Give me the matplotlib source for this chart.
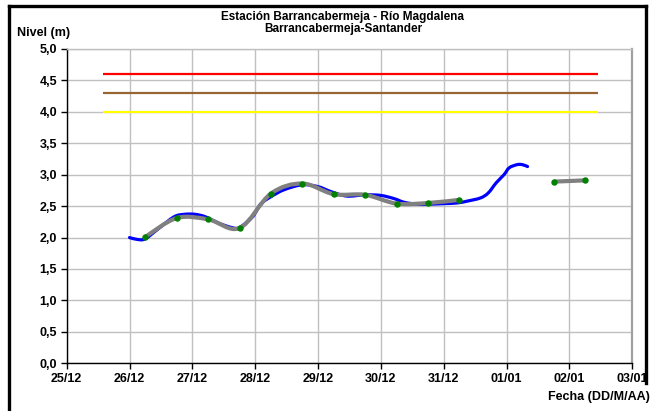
import datetime
import matplotlib
matplotlib.use("Agg")
import matplotlib.pyplot as plt
import matplotlib.dates as mdates
from matplotlib.path import Path
from matplotlib.patches import PathPatch
from matplotlib.lines import Line2D

plt.rcParams['font.family'] = ['Liberation Sans', 'DejaVu Sans']
plt.rcParams['font.weight'] = 'bold'

# hours counted from 25/12 00:00
start = datetime.datetime(2010, 12, 25)

blue_hours = [24, 27, 30, 35, 41, 45, 49, 53, 58, 63, 66, 71, 74, 78, 83, 90, 96,
              101, 107, 114, 120, 125, 129, 134, 138, 144, 149, 153, 158, 161,
              164, 167, 169, 172, 174, 176]
blue_values = [2.00, 1.97, 1.98, 2.14, 2.33, 2.37, 2.37, 2.33, 2.23, 2.16, 2.16,
               2.33, 2.53, 2.65, 2.76, 2.84, 2.81, 2.73, 2.66, 2.68, 2.67, 2.62,
               2.56, 2.53, 2.53, 2.54, 2.55, 2.58, 2.63, 2.71, 2.87, 3.00, 3.11,
               3.16, 3.16, 3.13]

# gray smoothed series, two pieces (gap between 31/12 and 01/01)
gray_hours_a = [30, 42, 54, 66, 78, 90, 102, 114, 126, 138, 150]
gray_values_a = [2.01, 2.31, 2.29, 2.15, 2.70, 2.86, 2.69, 2.68, 2.54, 2.55, 2.60]
gray_hours_b = [186, 198]
gray_values_b = [2.89, 2.91]

# alert levels
level_hours = [14, 203]
level_red = 4.6
level_brown = 4.3
level_yellow = 4.0

x_tick_days = [0, 1, 2, 3, 4, 5, 6, 7, 8, 9]
x_tick_labels = ['25/12', '26/12', '27/12', '28/12', '29/12', '30/12', '31/12',
                 '01/01', '02/01', '03/01']
y_ticks = [0.0, 0.5, 1.0, 1.5, 2.0, 2.5, 3.0, 3.5, 4.0, 4.5, 5.0]
y_tick_labels = ['0,0', '0,5', '1,0', '1,5', '2,0', '2,5', '3,0', '3,5', '4,0', '4,5', '5,0']


def to_num(hours):
    return [mdates.date2num(start + datetime.timedelta(hours=h)) for h in hours]


def smooth_path(xs, ys):
    # excel-like smoothed line: cubic bezier with catmull-rom tangents
    if len(xs) < 3:
        return Path(list(zip(xs, ys)))
    verts = [(xs[0], ys[0])]
    codes = [Path.MOVETO]
    n = len(xs)
    for i in range(n - 1):
        x0, y0 = (xs[i - 1], ys[i - 1]) if i > 0 else (xs[i], ys[i])
        x1, y1 = xs[i], ys[i]
        x2, y2 = xs[i + 1], ys[i + 1]
        x3, y3 = (xs[i + 2], ys[i + 2]) if i + 2 < n else (x2, y2)
        c1 = (x1 + (x2 - x0) / 6, y1 + (y2 - y0) / 6)
        c2 = (x2 - (x3 - x1) / 6, y2 - (y3 - y1) / 6)
        verts += [c1, c2, (x2, y2)]
        codes += [Path.CURVE4] * 3
    return Path(verts, codes)


fig = plt.figure(figsize=(6.53, 4.11), dpi=100)
ax = fig.add_axes([0.1021, 0.1161, 0.8662, 0.7647])

# alert lines
lx = to_num(level_hours)
ax.plot(lx, [level_red] * 2, color='#FF0000', lw=1.6, solid_capstyle='butt', zorder=3)
ax.plot(lx, [level_brown] * 2, color='#996633', lw=1.6, solid_capstyle='butt', zorder=3)
ax.plot(lx, [level_yellow] * 2, color='#FFFF00', lw=1.6, solid_capstyle='butt', zorder=3)

# observed level (blue)
ax.add_patch(PathPatch(smooth_path(to_num(blue_hours), blue_values), fill=False,
                       edgecolor='#0000FF', lw=2.3, capstyle='round', zorder=4))

# smoothed daily series (gray) with green markers
for hrs, vals in [(gray_hours_a, gray_values_a), (gray_hours_b, gray_values_b)]:
    gx = to_num(hrs)
    ax.add_patch(PathPatch(smooth_path(gx, vals), fill=False, edgecolor='#808080',
                           lw=3.0, capstyle='butt', zorder=5))
    ax.plot(gx, vals, 'o', color='#008000', ms=3.6, mec='#008000', zorder=6)

xmin = mdates.date2num(start)
ax.set_xlim(xmin, xmin + 9)
ax.set_ylim(0, 5)
ax.set_xticks([xmin + d for d in x_tick_days])
ax.set_xticklabels(x_tick_labels)
ax.set_yticks(y_ticks)
ax.set_yticklabels(y_tick_labels)
ax.tick_params(axis='both', direction='out', length=4, width=1, labelsize=9, colors='black')
ax.tick_params(axis='x', pad=3)
ax.tick_params(axis='y', pad=3)

ax.grid(True, color='#C0C0C0', lw=1.0)
ax.set_axisbelow(True)
for s in ['left', 'bottom']:
    ax.spines[s].set_color('black')
    ax.spines[s].set_linewidth(1.0)
ax.spines['top'].set_color('#C0C0C0')
ax.spines['top'].set_linewidth(1.0)
ax.spines['right'].set_color('#A0A0A0')
ax.spines['right'].set_linewidth(1.6)

fig.text(0.525, 1 - 11 / 411, 'Estación Barrancabermeja - Río Magdalena\nBarrancabermeja-Santander',
         ha='center', va='top', fontsize=8.5, fontweight='bold', linespacing=1.05)
fig.text(17 / 653, 1 - 33 / 411, 'Nivel (m)', ha='left', va='center', fontsize=9, fontweight='bold')
fig.text(650 / 653, 1 - 397 / 411, 'Fecha (DD/M/AA)', ha='right', va='center',
         fontsize=9, fontweight='bold')

# outer black frame of the chart
W, H = 653.0, 411.0
fig.add_artist(Line2D([9 / W, 9 / W], [0, 1 - 6 / H], color='black', lw=2.4,
                      transform=fig.transFigure))
fig.add_artist(Line2D([9 / W, 646 / W], [1 - 6 / H, 1 - 6 / H], color='black', lw=2.4,
                      transform=fig.transFigure))
fig.add_artist(Line2D([646 / W, 646 / W], [1 - 6 / H, 1 - 383 / H], color='black', lw=2.4,
                      transform=fig.transFigure))

fig.savefig('out.png', dpi=100)
